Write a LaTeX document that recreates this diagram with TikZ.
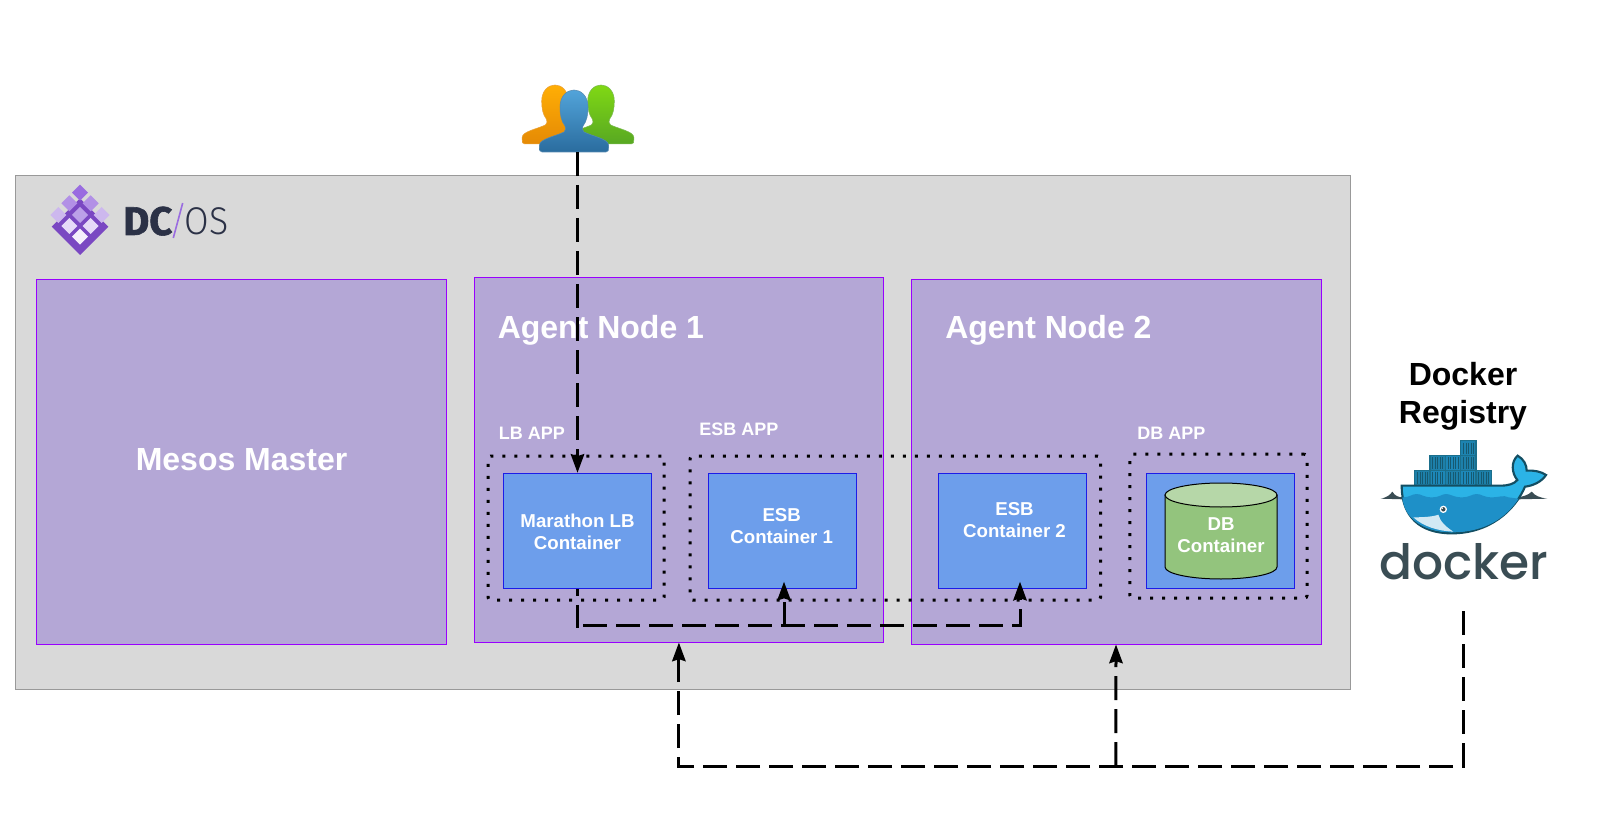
\documentclass[tikz,border=0pt]{standalone}
\usepackage{fontspec}
\usetikzlibrary{arrows.meta,calc}
\setmainfont{Liberation Sans}
\newfontfamily\dcfont[BoldFeatures={FakeBold=1.5}]{Fira Sans}
\newfontfamily\dclight[FakeStretch=0.92]{Fira Sans Light}
\newfontfamily\dockerfont{Poppins Medium}
\definecolor{panelgray}{HTML}{D9D9D9}
\definecolor{nodepurple}{HTML}{B4A7D6}
\definecolor{edgepurple}{HTML}{9900FF}
\definecolor{boxblue}{HTML}{6D9EEB}
\definecolor{edgeblue}{HTML}{1C1CE8}
\definecolor{dbgreen}{HTML}{93C47D}
\definecolor{dbtop}{HTML}{B6D7A8}
\definecolor{dcdark}{HTML}{2B3146}
\definecolor{dockgray}{HTML}{3A4D54}
\definecolor{deep}{HTML}{1B6F8C}
\definecolor{hull}{HTML}{1E90C8}
\definecolor{band}{HTML}{2BB3E6}
\definecolor{orangetop}{HTML}{FFAE05}
\definecolor{orangebot}{HTML}{E58A05}
\definecolor{greentop}{HTML}{80D814}
\definecolor{greenbot}{HTML}{58A822}
\definecolor{bluetop}{HTML}{52A4DA}
\definecolor{bluebot}{HTML}{2A6C9E}
\definecolor{lgdark}{HTML}{7A48C2}
\definecolor{lga}{HTML}{9A6CE0}
\definecolor{lgb}{HTML}{B290E6}
\definecolor{lgc}{HTML}{CDB8EE}
\definecolor{lgd}{HTML}{BBA0E8}
\definecolor{lge}{HTML}{E6DAF8}
\definecolor{lgf}{HTML}{F5F0FC}
\tikzset{
  panel/.style={draw=black!40,fill=panelgray,line width=.75pt,inner sep=0pt},
  agent/.style={draw=edgepurple,fill=nodepurple,line width=.75pt,inner sep=0pt},
  cont/.style={draw=edgeblue,fill=boxblue,line width=.75pt,inner sep=0pt},
  frameline/.style={draw=black,line width=2.25pt,dash pattern=on 2.25pt off 6.75pt,inner sep=0pt},
  flow/.style={draw=black,line width=2.25pt,dash pattern=on 18pt off 6.75pt},
  flowtip/.style={flow,-{Stealth[length=14pt,width=10pt,inset=1.5pt]}},
  big/.style={anchor=base,text=white,font=\bfseries\fontsize{24}{28}\selectfont,inner sep=0pt},
  app/.style={anchor=base west,text=white,font=\bfseries\fontsize{13.5}{16}\selectfont,inner sep=0pt},
  small/.style={anchor=base,text=white,align=center,font=\bfseries\fontsize{14}{16.5}\selectfont,inner sep=0pt},
}
\newcommand{\pxrect}[6]{\node[#1,minimum width={(#5-#3)*0.75pt},minimum height={(#6-#4)*0.75pt}] (#2) at ({(#3+#5)/2},{(#4+#6)/2}) {};}
\newcommand{\person}[5]{% cx, top, scale, topcolor, bottomcolor
  \begin{scope}[shift={(#1,#2)},x=#3*0.75pt,y=-#3*0.75pt]
    \path[top color=#4,bottom color=#5,draw=#5!80!white,line width=.4pt]
      (-32,62) .. controls (-34.5,62) and (-34.5,60) .. (-34.5,58) -- (-34.5,55)
      .. controls (-34.5,49) and (-18,46) .. (-10,42) .. controls (-8,40.5) and (-8,38) .. (-9,36)
      .. controls (-13,31) and (-14,24) .. (-14,17) .. controls (-14,6) and (-7,0) .. (0,0)
      .. controls (7,0) and (14,6) .. (14,17) .. controls (14,24) and (13,31) .. (9,36)
      .. controls (8,38) and (8,40.5) .. (10,42) .. controls (18,46) and (34.5,49) .. (34.5,55)
      -- (34.5,58) .. controls (34.5,60) and (34.5,62) .. (32,62) -- cycle;
  \end{scope}}
\newcommand{\dia}[3]{\fill[#3] (#1-24,#2) -- (#1,#2-24) -- (#1+24,#2) -- (#1,#2+24) -- cycle;}
\newcommand{\crate}[3]{\fill[#3,draw=deep,line width=1.2pt] (#1,#2) rectangle (#1+46,#2+46);
  \foreach \k in {1,...,5}{\draw[deep!80!black,line width=.3pt] (#1+\k*7.6,#2+6) -- (#1+\k*7.6,#2+40);}}
\begin{document}
\begin{tikzpicture}[x=0.75pt,y=-0.75pt]
\useasboundingbox (0,0) rectangle (1602,827);
\fill[white] (0,0) rectangle (1602,827);

\pxrect{panel}{dcospanel}{15}{176}{1350}{689}
\pxrect{agent}{master}{36.8}{279.5}{446.5}{644}
\pxrect{agent}{agent1}{474.4}{277.5}{883.4}{642}
\pxrect{agent}{agent2}{911}{279.5}{1321}{644}
\pxrect{cont}{marathon}{503.3}{473.3}{651.7}{588.3}
\pxrect{cont}{esb1}{708.3}{473.3}{856.7}{588.3}
\pxrect{cont}{esb2}{938}{473.3}{1086}{588.3}
\pxrect{cont}{dbbox}{1146}{473.3}{1294.5}{588.3}

\node[frameline,draw,fill=none,rounded corners=2pt,minimum width=132pt,minimum height=108pt] (lbapp) at (576,528) {};
\node[frameline,draw,fill=none,rounded corners=2pt,minimum width=307.9pt,minimum height=108pt] (esbapp) at (895.3,528) {};
\node[frameline,draw,fill=none,rounded corners=2pt,minimum width=132.8pt,minimum height=108pt] (dbapp) at (1218.5,526.2) {};

% DB cylinder
\draw[black,line width=.75pt,fill=dbgreen] (1165,495) -- (1165,567) arc[start angle=180,end angle=0,x radius=56,y radius=12] -- (1277,495) -- cycle;
\draw[black,line width=.75pt,fill=dbtop] (1221,495) ellipse[x radius=56,y radius=12];

\node[big] (mastertext) at (241.6,470) {Mesos Master};
\node[big,anchor=base west] (a1text) at (497.5,338.5) {Agent Node 1};
\node[big,anchor=base west] (a2text) at (945,338.5) {Agent Node 2};
\node[app] (lbtext) at (498.6,439.5) {LB APP};
\node[app] (esbtext) at (699,435.5) {ESB APP};
\node[app] (dbtext) at (1137,439.5) {DB APP};
\node[small] (mtext) at (577.5,549) {Marathon LB\\Container};
\node[small] (e1text) at (781.7,543) {ESB\\Container 1};
\node[small] (e2text) at (1014.5,537.5) {ESB\\Container 2};
\node[small] (dtext) at (1221,552.5) {DB\\Container};
\node[anchor=base,align=center,inner sep=0pt,font=\bfseries\fontsize{24}{28.3}\selectfont] (regtext) at (1463,423) {Docker\\Registry};

% users icon
\person{555}{85}{0.95}{orangetop}{orangebot}
\person{601}{85}{0.95}{greentop}{greenbot}
\person{574}{90}{1}{bluetop}{bluebot}

% DC/OS logo
\begin{scope}[shift={(30,170)},x=0.25pt,y=-0.25pt]
  \fill[lgdark] (65,170) -- (150,85) -- (235,170) -- (150,255) -- cycle;
  \dia{150}{68}{lga}
  \dia{118}{100}{lgb}
  \dia{182}{100}{lgb}
  \dia{85}{135}{lgc}
  \dia{150}{135}{lgd}
  \dia{215}{135}{lgc}
  \dia{118}{168}{lge}
  \dia{182}{168}{lge}
  \dia{150}{200}{lgf}
\end{scope}
\node[anchor=base west,inner sep=0pt,text=dcdark,font=\dcfont\bfseries\fontsize{30}{32}\selectfont] (dctext) at (123,235) {DC};
\draw[lga,line width=1.2pt] (182.7,203) -- (173.3,238);
\node[anchor=base west,inner sep=0pt,text=dcdark,font=\dclight\fontsize{29}{32}\selectfont] (ostext) at (184.5,235) {OS};

% Docker logo
\begin{scope}[shift={(1360,420)},x=0.25pt,y=-0.25pt]
  \crate{302}{62}{hull!60!deep}
  \crate{210}{106}{hull!50!deep}
  \crate{256}{106}{hull!70!deep}
  \crate{302}{106}{hull!50!deep}
  \crate{164}{151}{hull!50!deep}
  \crate{210}{151}{hull!75!deep}
  \crate{256}{151}{hull!50!deep}
  \crate{302}{151}{hull!75!deep}
  \crate{348}{151}{hull!50!deep}
  \fill[dockgray] (62,236) .. controls (80,233) and (90,225) .. (97,215) .. controls (105,228) and (115,232) .. (130,232) -- (130,238) -- cycle;
  \fill[dockgray] (470,238) -- (470,232) .. controls (490,230) and (505,225) .. (515,215) .. controls (525,228) and (540,233) .. (562,236) -- cycle;
  \draw[deep!70!black,line width=1.6pt,fill=band]
    (125,197) -- (420,197) .. controls (445,197) and (462,192) .. (472,180)
    .. controls (455,160) and (452,125) .. (473,107) .. controls (492,118) and (500,135) .. (500,152)
    .. controls (520,150) and (545,155) .. (558,165) .. controls (545,185) and (520,197) .. (495,200)
    .. controls (465,270) and (390,340) .. (275,340) .. controls (180,340) and (125,290) .. (125,197) -- cycle;
  \fill[hull] (127,232) .. controls (150,232) and (155,222) .. (170,222) .. controls (185,222) and (190,232) .. (215,232)
    .. controls (240,232) and (245,222) .. (258,222) .. controls (272,222) and (280,232) .. (305,232)
    .. controls (330,232) and (335,222) .. (350,222) .. controls (365,222) and (370,232) .. (395,232)
    .. controls (420,232) and (430,224) .. (445,232) -- (476,236)
    .. controls (440,290) and (380,337) .. (275,337) .. controls (190,337) and (132,295) .. (127,232) -- cycle;
  \fill[white!80!hull] (160,292) .. controls (190,292) and (220,290) .. (235,284) .. controls (240,305) and (260,322) .. (280,335)
    .. controls (235,333) and (190,320) .. (160,292) -- cycle;
  \fill[white] (250,268) circle (11);
  \fill[dockgray] (250,268) circle (6.5);
  \fill[white] (247,265) circle (2);
\end{scope}
\node[anchor=base,inner sep=0pt,text=dockgray,font=\dockerfont\fontsize{36.5}{40}\selectfont] (dockertext) at (1464,579) {docker};

% connectors
\coordinate (usersout) at (577.5,152);
\coordinate (dockerout) at (1463,611);
\coordinate (low) at (1463,766);
\coordinate (j1) at (1115.9,766);
\coordinate (lowl) at (678.9,766);
\coordinate (busdown) at (577.5,628);
\coordinate (busl) at (583.3,625.7);
\coordinate (busm) at (784,625.7);
\coordinate (busr) at (1020,625.7);
\coordinate (e1in) at (784,581.7);
\coordinate (e2in) at (1020,581.7);

\draw[flowtip] (usersout) -- (marathon.north);
\draw[flow,dash phase=12.75pt] (marathon.south) -- (busdown);
\draw[flowtip] (busl) -- (busr) -- (e2in);
\draw[flowtip] (busm) -- (e1in);
\draw[flowtip] (dockerout) -- (low) -- (lowl) -- (agent1.south);
\draw[flowtip] (j1) -- (agent2.south);
\end{tikzpicture}
\end{document}
